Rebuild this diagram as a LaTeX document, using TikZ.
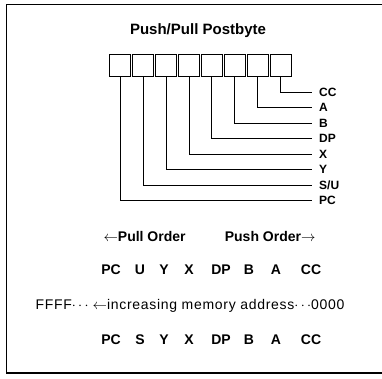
\documentclass[tikz,border=0pt]{standalone}
\usepackage{fontspec}
\setmainfont{Liberation Sans}
\usetikzlibrary{positioning}

\tikzset{
  cell/.style={draw, line width=1pt, minimum width=21pt, minimum height=22pt, inner sep=0pt},
  reglabel/.style={anchor=west, inner sep=0pt, text height=8.5pt, text depth=0pt,
    font=\fontsize{12}{14}\selectfont\bfseries},
  wire/.style={line width=1pt, shorten >=7pt},
  rowtext/.style={font=\fontsize{14}{16}\selectfont\bfseries},
}

\begin{document}
\begin{tikzpicture}[x=1pt, y=-1pt]
  \useasboundingbox (0,0) rectangle (382,378);
  % frame, open on the right
  \draw[line width=1.6pt] (382,4.5) -- (6.5,4.5) -- (6.5,373) -- (382,373);

  \node[font=\fontsize{15}{17}\selectfont\bfseries] (title) at (198,31) {Push/Pull Postbyte};

  % postbyte cells
  \foreach \i in {0,...,7} {
    \node[cell] (b\i) at (120.4+\i*22.875, 65.5) {};
  }

  % register names
  \foreach \i/\reg in {0/PC, 1/{S/U}, 2/Y, 3/X, 4/DP, 5/B, 6/A, 7/CC} {
    \node[reglabel] (r\i) at (319, 200.5-15.5*\i) {\reg};
    \draw[wire] (b\i.south) |- (r\i.west);
  }

  % order of the stack
  \node[rowtext, anchor=west] (pull) at (100,236) {$\leftarrow$Pull Order};
  \node[rowtext, anchor=east] (push) at (319,236) {Push Order$\rightarrow$};

  \foreach \x/\reg [count=\n] in {111/PC, 140/U, 164/Y, 189/X, 221/DP, 249/B, 276/A, 311/CC} {
    \node[rowtext] (u\n) at (\x,270) {\reg};
  }

  \node[font=\fontsize{14}{16}\selectfont\addfontfeatures{LetterSpace=5}] (mem) at (190,306)
    {FFFF$\cdots\leftarrow$increasing memory address$\cdots$0000};

  \foreach \x/\reg [count=\n] in {111/PC, 140/S, 164/Y, 189/X, 221/DP, 249/B, 276/A, 311/CC} {
    \node[rowtext] (s\n) at (\x,340) {\reg};
  }
\end{tikzpicture}
\end{document}
